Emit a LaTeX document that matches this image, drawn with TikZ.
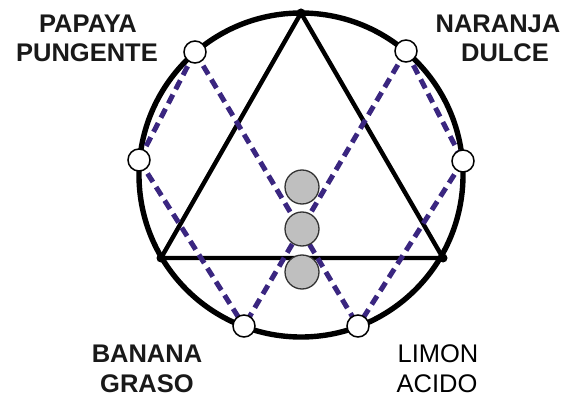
\documentclass[tikz,border=0pt]{standalone}
\usepackage{fontspec}
\setmainfont{Liberation Sans}
\begin{document}
\begin{tikzpicture}[x=1pt,y=-1pt,
  ring/.style={line width=5.4pt,draw=black},
  tri/.style={line width=4.4pt,draw=black,line join=miter},
  dashline/.style={line width=5pt,draw=dkpurple,dash pattern=on 10pt off 6pt},
  wdot/.style={circle,draw=black,fill=white,line width=1.5pt,minimum size=22pt,inner sep=0pt},
  gdot/.style={circle,draw=black!80,fill=gray!50,line width=1.3pt,minimum size=34pt,inner sep=0pt},
  vdot/.style={circle,fill=black,minimum size=9pt,inner sep=0pt},
  lbl/.style={font=\fontsize{25.5}{29}\selectfont\bfseries,anchor=base,inner sep=0pt,text=black!90},
  lblr/.style={font=\fontsize{25.5}{29}\selectfont,anchor=base,inner sep=0pt,text=black}]
\definecolor{dkpurple}{RGB}{58,38,128}
\useasboundingbox (0,0) rectangle (573,398);
\coordinate (O) at (301,175);
\draw[ring] (O) circle (162);
% triangle vertices
\coordinate (T) at (301,13);
\coordinate (L) at (161,258);
\coordinate (R) at (443,258);
\draw[tri] (T) -- (L) -- (R) -- cycle;
\node[vdot] (vt) at (T) {};
\node[vdot] (vl) at (L) {};
\node[vdot] (vr) at (R) {};
% points on ring
\coordinate (pA) at (195,52);
\coordinate (pB) at (139,160);
\coordinate (pN) at (406,51);
\coordinate (pR) at (463,161);
\coordinate (pBn) at (244,326);
\coordinate (pLm) at (358,326);
\draw[dashline] (pA) -- (pB);
\draw[dashline] (pA) -- (pLm);
\draw[dashline] (pB) -- (pBn);
\draw[dashline] (pN) -- (pR);
\draw[dashline] (pN) -- (pBn);
\draw[dashline] (pR) -- (pLm);
\node[wdot] (a) at (pA) {};
\node[wdot] (b) at (pB) {};
\node[wdot] (n) at (pN) {};
\node[wdot] (r) at (pR) {};
\node[wdot] (bn) at (pBn) {};
\node[wdot] (lm) at (pLm) {};
% gray circles
\node[gdot] (g1) at (302,187) {};
\node[gdot] (g2) at (302,229) {};
\node[gdot] (g3) at (302,272) {};
% labels
\node[lbl] (l1) at (88,33) {PAPAYA};
\node[lbl] (l2) at (87,62) {PUNGENTE};
\node[lbl] (l3) at (498,33) {NARANJA};
\node[lbl] (l4) at (505,62) {DULCE};
\node[lbl] (l5) at (147,362) {BANANA};
\node[lbl] (l6) at (147,392) {GRASO};
\node[lblr] (l7) at (438,362) {LIMON};
\node[lblr] (l8) at (437,392) {ACIDO};
\end{tikzpicture}
\end{document}
